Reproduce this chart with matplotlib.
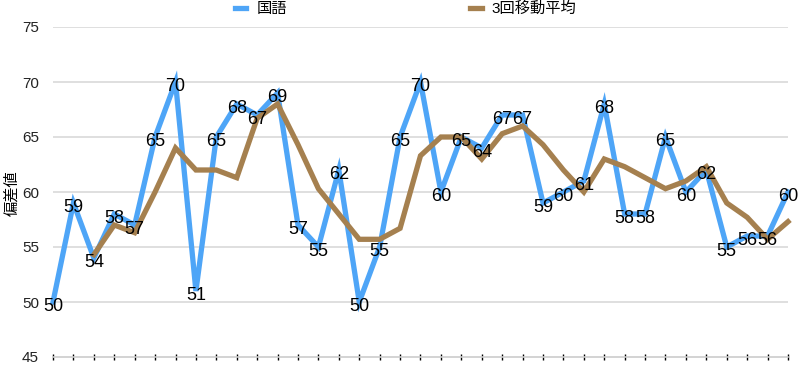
import numpy as np
import matplotlib.pyplot as plt

plt.rcParams['font.family'] = ['Liberation Sans', 'Noto Sans CJK JP', 'DejaVu Sans']

# 国語の偏差値（各回）
kokugo = [50, 59, 54, 58, 57, 65, 70, 51, 65, 68, 67, 69, 57, 55, 62, 50, 55, 65, 70,
          60, 65, 64, 67, 67, 59, 60, 61, 68, 58, 58, 65, 60, 62, 55, 56, 56, 60]
# 3回移動平均（3回目から）
idou = [54.3, 57.0, 56.3, 60.0, 64.0, 62.0, 62.0, 61.3, 66.7, 68.0, 64.3, 60.3, 58.0,
        55.7, 55.7, 56.7, 63.3, 65.0, 65.0, 63.0, 65.3, 66.0, 64.3, 62.0, 60.0, 63.0,
        62.3, 61.3, 60.3, 61.0, 62.3, 59.0, 57.7, 55.7, 57.3]
names = ['国語', '3回移動平均']
yticks = [45, 50, 55, 60, 65, 70, 75]

blue = '#4ea5f7'
brown = '#a5804f'

x = np.arange(len(kokugo))
x_ma = x[2:]

fig = plt.figure(figsize=(8, 3.65), dpi=100)
ax = fig.add_axes([53/800, 1-357/365, (788-53)/800, 330/365])

for y in yticks[1:]:
    ax.axhline(y, color='#dcdcdc', lw=1.3, zorder=0)

l1, = ax.plot(x, kokugo, color=blue, lw=3.8, solid_joinstyle='miter', clip_on=False, zorder=3)
l2, = ax.plot(x_ma, idou, color=brown, lw=3.8, solid_joinstyle='miter', clip_on=False, zorder=4)

for xi, v in zip(x, kokugo):
    ax.annotate(str(v), (xi, v), xytext=(0, -3), textcoords='offset points',
                ha='center', va='center', fontsize=13, color='black', zorder=5)

ax.set_xlim(0, 36)
ax.set_ylim(45, 75)
ax.set_yticks(yticks)
ax.set_xticks(x)
ax.set_xticklabels([])
ax.tick_params(axis='y', length=0, pad=10, labelsize=11, labelcolor='#222222')
ax.tick_params(axis='x', direction='inout', length=5, width=1, color='black')
for s in ['top', 'right', 'left']:
    ax.spines[s].set_visible(False)
ax.spines['bottom'].set_color('#cccccc')
ax.spines['bottom'].set_linewidth(1.2)

fig.text(12/800, 1-193/365, '偏差値', rotation=90, ha='center', va='center', fontsize=11)

fig.legend([l1, l2], names, loc='center', bbox_to_anchor=(0.507, 1-9/365), ncol=2,
           frameon=False, fontsize=11, handlelength=0.75, handletextpad=0.65,
           columnspacing=12.0, borderaxespad=0)

fig.savefig('out.png', dpi=100)
